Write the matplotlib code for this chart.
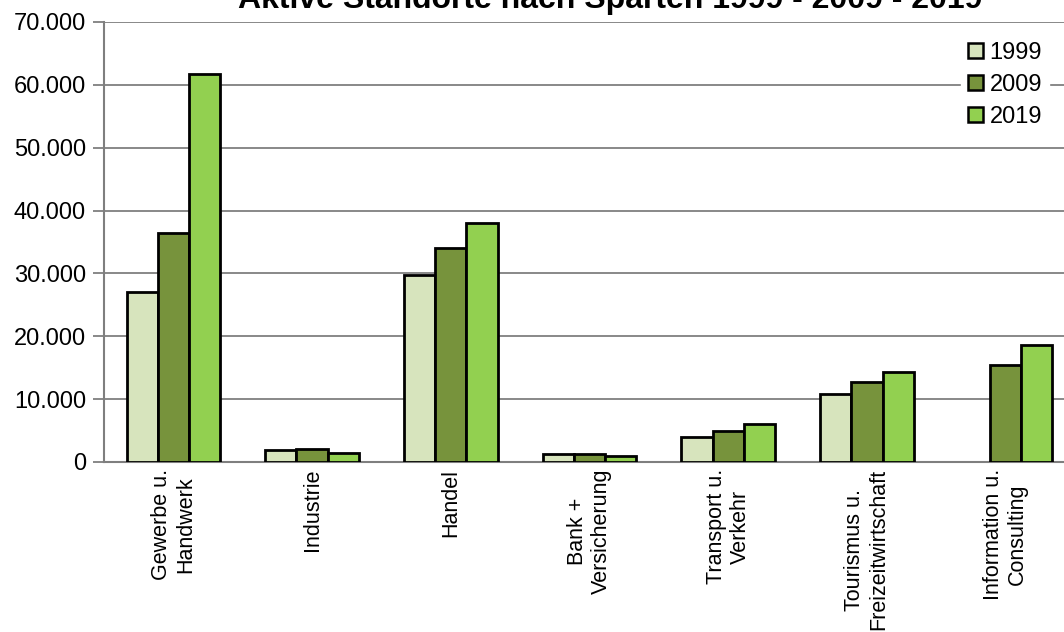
import numpy as np
import matplotlib
matplotlib.use('Agg')
import matplotlib.pyplot as plt

plt.rcParams['font.family'] = ['Liberation Sans', 'DejaVu Sans']

categories = ['Gewerbe u.\nHandwerk', 'Industrie', 'Handel', 'Bank +\nVersicherung',
              'Transport u.\nVerkehr', 'Tourismus u.\nFreizeitwirtschaft', 'Information u.\nConsulting']
years = ['1999', '2009', '2019']
v1999 = [27000, 1900, 29700, 1250, 4000, 10800, np.nan]
v2009 = [36500, 2100, 34100, 1200, 4900, 12800, 15400]
v2019 = [61800, 1500, 37950, 1000, 6000, 14300, 18550]
colors = ['#D7E4BD', '#77933C', '#92D050']

W, H = 1064, 632
fig = plt.figure(figsize=(W/100, H/100), dpi=100)
# plot area runs past the right edge like in the original
ax = fig.add_axes([104/W, (H-462)/H, (1075-104)/W, 440/H])

x = np.arange(len(categories))
bw = 0.225
for i, (vals, c, lab) in enumerate(zip([v1999, v2009, v2019], colors, years)):
    ax.bar(x + (i-1)*bw, vals, bw, color=c, edgecolor='black', linewidth=2, label=lab, zorder=3)

fs = 17
ax.set_xlim(-0.5, len(categories)-0.5)
ax.set_ylim(0, 70000)
yt = np.arange(0, 70001, 10000)
ax.set_yticks(yt)
ax.set_yticklabels(['{:,}'.format(v).replace(',', '.') for v in yt], fontsize=fs)
ax.yaxis.grid(True, color='#7f7f7f', linewidth=1.3, zorder=0)
ax.set_axisbelow(True)
ax.set_xticks(x)
ax.set_xticklabels(categories, rotation=90, fontsize=15.5, multialignment='center')
ax.tick_params(axis='x', length=0, pad=5)
ax.tick_params(axis='y', length=8, width=1.3, color='#7f7f7f', pad=5)
for s in ['top', 'right']:
    ax.spines[s].set_visible(False)
for s in ['left', 'bottom']:
    ax.spines[s].set_color('#7f7f7f')
    ax.spines[s].set_linewidth(1.5)

leg = ax.legend(loc='upper right', bbox_to_anchor=(1061/W, (H-23)/H), bbox_transform=fig.transFigure,
                fontsize=fs, frameon=True, framealpha=1, edgecolor='white', fancybox=False,
                handlelength=0.6, handleheight=0.6, handletextpad=0.3, labelspacing=0.42, borderpad=0.3)
for p in leg.get_patches():
    p.set_linewidth(1.8)

fig.text(610/W, 1 - 8/H, 'Aktive Standorte nach Sparten 1999 - 2009 - 2019',
         ha='center', va='baseline', fontsize=23, fontweight='bold')

fig.savefig('out.png', dpi=100)
